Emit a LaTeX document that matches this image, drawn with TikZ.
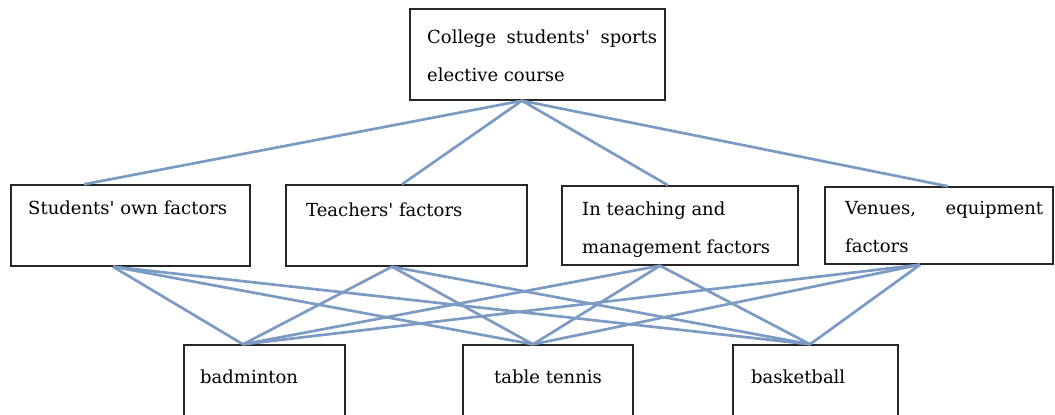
\documentclass[tikz,border=0pt]{standalone}
\usepackage{fontspec}
\setmainfont{DejaVu Serif}
\definecolor{linkblue}{RGB}{124,155,196}
\tikzset{
	box/.style={draw=black!85, line width=1.4pt, rectangle, inner sep=0pt},
	txt/.style={inner sep=0pt, anchor=base west, font=\fontsize{18}{38}\selectfont},
	link/.style={draw=linkblue, line width=2.7pt},
}
\begin{document}
\begin{tikzpicture}[x=1pt, y=-1pt]
		\useasboundingbox (0,0) rectangle (1055,415);
		\clip (0,0) rectangle (1055,415);

		% boxes
		\node[box, minimum width=255, minimum height=91] (course)  at (537.5, 54.5) {};
		\node[box, minimum width=239, minimum height=81] (student) at (130.5,225.5) {};
		\node[box, minimum width=241, minimum height=81] (teacher) at (406.5,225.5) {};
		\node[box, minimum width=236, minimum height=79] (manage)  at (680,  225.5) {};
		\node[box, minimum width=228, minimum height=77] (venue)   at (939,  225.5) {};
		\node[box, minimum width=161, minimum height=75] (badm)    at (264.5,382.5) {};
		\node[box, minimum width=170, minimum height=75] (ttennis) at (548,  382.5) {};
		\node[box, minimum width=165, minimum height=75] (bball)   at (815.5,382.5) {};

		% texts
		\node[txt] (coursetxt)  at (427, 43) {\parbox[t]{230pt}{\makebox[230pt][s]{College students\textquotesingle{} sports}\\elective course}};
		\node[txt] (studenttxt) at (28, 214) {Students\textquotesingle{} own factors};
		\node[txt] (teachertxt) at (306,216) {Teachers\textquotesingle{} factors};
		\node[txt] (managetxt)  at (582,215) {\parbox[t]{210pt}{In teaching and\\management factors}};
		\node[txt] (venuetxt)   at (845,214) {\parbox[t]{198pt}{\makebox[198pt][s]{Venues, equipment}\\factors}};
		\node[txt] (badmtxt)    at (200,383) {badminton};
		\node[txt] (ttennistxt) at (494,383) {table tennis};
		\node[txt] (bballtxt)   at (751,383) {basketball};

		% course to factors
		\draw[link] ([xshift=-15.5]course.south) -- ([xshift=-46.5]student.north);
		\draw[link] ([xshift=-15.5]course.south) -- ([xshift=-4.5]teacher.north);
		\draw[link] ([xshift=-15.5]course.south) -- ([xshift=-12]manage.north);
		\draw[link] ([xshift=-15.5]course.south) -- ([xshift=9]venue.north);

		% factors to sports
		\draw[link] ([xshift=-17.5]student.south) -- ([xshift=-21.5]badm.north);
		\draw[link] ([xshift=-17.5]student.south) -- ([xshift=-15]ttennis.north);
		\draw[link] ([xshift=-17.5]student.south) -- ([xshift=-5.5]bball.north);
		\draw[link] ([xshift=-14.5]teacher.south) -- ([xshift=-21.5]badm.north);
		\draw[link] ([xshift=-14.5]teacher.south) -- ([xshift=-15]ttennis.north);
		\draw[link] ([xshift=-14.5]teacher.south) -- ([xshift=-5.5]bball.north);
		\draw[link] ([xshift=-20]manage.south)    -- ([xshift=-21.5]badm.north);
		\draw[link] ([xshift=-20]manage.south)    -- ([xshift=-15]ttennis.north);
		\draw[link] ([xshift=-20]manage.south)    -- ([xshift=-5.5]bball.north);
		\draw[link] ([xshift=-19]venue.south)     -- ([xshift=-21.5]badm.north);
		\draw[link] ([xshift=-19]venue.south)     -- ([xshift=-15]ttennis.north);
		\draw[link] ([xshift=-19]venue.south)     -- ([xshift=-5.5]bball.north);
	\end{tikzpicture}
\end{document}
